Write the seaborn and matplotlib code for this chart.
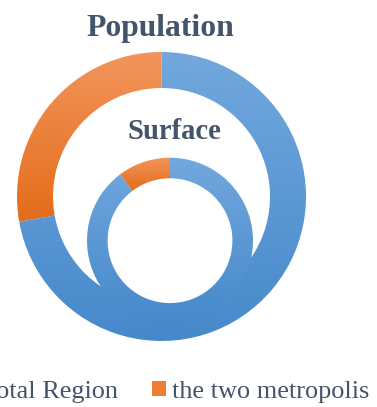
import numpy as np
import matplotlib
matplotlib.use("Agg")
import matplotlib.pyplot as plt
from matplotlib.colors import LinearSegmentedColormap
from matplotlib.patches import Patch
import seaborn as sns

# Shares of the two metropolitan areas versus the rest of the region (%)
series = ["the two metropolis", "Total Region"]
population = [27.8, 72.2]
surface = [10.3, 89.7]
legend_labels = ["Total Region", "the two metropolis"]
titles = ["Population", "Surface"]

sns.set_theme(style="white")
plt.rcParams["font.family"] = ["Liberation Serif", "DejaVu Serif"]

text_color = "#44546A"
# (top, bottom) shades of each series' vertical gradient
shades = {
    "the two metropolis": ("#F2955C", "#E46C1A"),
    "Total Region": ("#72A8DD", "#4689CB"),
}
legend_colors = {"the two metropolis": "#ED7D31", "Total Region": "#5B9BD5"}

W, H = 377, 407
fig = plt.figure(figsize=(W / 100, H / 100), dpi=100)
ax = fig.add_axes([0, 0, 1, 1])


def ring(values, center, radius, width):
    colors = [shades[s][1] for s in series]
    wedges, _ = ax.pie(values, colors=colors, startangle=90, counterclock=True,
                       center=center, radius=radius,
                       wedgeprops=dict(width=width, linewidth=0))
    for w, name in zip(wedges, series):
        top, bottom = shades[name]
        cmap = LinearSegmentedColormap.from_list(name, [top, bottom])
        ext = w.get_path().get_extents()
        grad = np.linspace(0, 1, 256).reshape(-1, 1)
        im = ax.imshow(grad, cmap=cmap, origin="upper", aspect="auto",
                       extent=[ext.x0, ext.x1, ext.y0, ext.y1], zorder=w.get_zorder())
        im.set_clip_path(w)
        w.set_alpha(0)
    return wedges


ring(population, center=(161.5, H - 196.5), radius=144.5, width=36)
ring(surface, center=(170.0, H - 240.7), radius=83.0, width=20.6)

ax.set_xlim(0, W)
ax.set_ylim(0, H)
ax.set_aspect("equal")
ax.axis("off")

ax.text(160.5, H - 36, titles[0], ha="center", va="baseline", fontsize=22.8,
        fontweight="bold", color=text_color)
ax.text(174, H - 139, titles[1], ha="center", va="baseline", fontsize=20.6,
        fontweight="bold", color=text_color)

handles = [Patch(facecolor=legend_colors[name], edgecolor="none") for name in legend_labels]
fig.legend(handles, legend_labels, loc="center", ncol=2,
           bbox_to_anchor=(166 / W, 1 - 392 / H), frameon=False,
           fontsize=18.9, labelcolor=text_color,
           handlelength=0.5, handleheight=0.5, handletextpad=0.25,
           columnspacing=1.3, borderpad=0, borderaxespad=0)

fig.savefig("out.png", dpi=100)
